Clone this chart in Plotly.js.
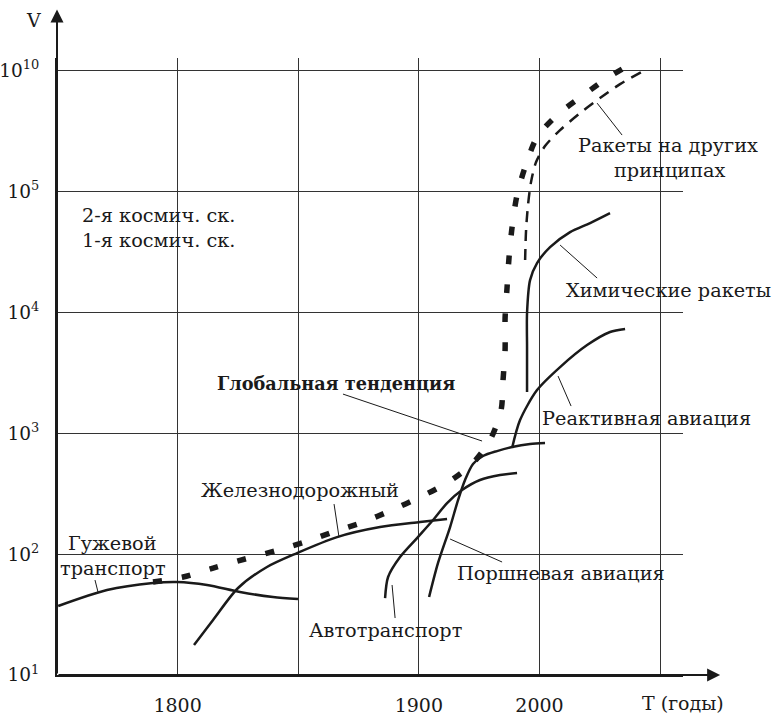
<!DOCTYPE html>
<html><head><meta charset="utf-8">
<script src="https://cdn.plot.ly/plotly-3.0.1.min.js"></script>
<style>html,body{margin:0;padding:0;background:#fff}</style>
</head><body><div id="chart" style="width:776px;height:715px"></div>
<script>
// Axis ticks (schematic grid units)
const xTickVals = [1, 2, 3, 4, 5];
const xTickText = ['1800', '', '1900', '2000', ''];
const yTickVals = [0, 1, 2, 3, 4, 5];
const yTickText = ['10<sup>1</sup>', '10<sup>2</sup>', '10<sup>3</sup>', '10<sup>4</sup>', '10<sup>5</sup>', '10<sup>10</sup>'];

// Curves (x in grid units, y in grid units)
const horseX = [0.01, 0.415, 0.796, 0.995, 1.244, 1.517, 1.791, 1.998];
const horseY = [0.570, 0.702, 0.760, 0.769, 0.744, 0.686, 0.645, 0.628];

const railX = [1.136, 1.294, 1.501, 1.741, 1.990, 2.322, 2.678, 3.010, 3.234];
const railY = [0.248, 0.455, 0.719, 0.893, 1.008, 1.140, 1.223, 1.264, 1.289];

const autoX = [2.720, 2.745, 2.844, 2.985, 3.118, 3.234, 3.358, 3.507, 3.673, 3.814];
const autoY = [0.636, 0.810, 0.975, 1.132, 1.281, 1.421, 1.529, 1.612, 1.653, 1.669];

const pistonX = [3.085, 3.159, 3.259, 3.325, 3.383, 3.449, 3.532, 3.648, 3.773, 3.922, 4.046];
const pistonY = [0.645, 0.926, 1.223, 1.446, 1.612, 1.744, 1.810, 1.851, 1.884, 1.909, 1.917];

const jetX = [3.773, 3.839, 3.980, 4.171, 4.395, 4.585, 4.710];
const jetY = [1.876, 2.107, 2.355, 2.545, 2.727, 2.835, 2.860];

const chemX = [3.897, 3.897, 3.897, 3.922, 3.980, 4.088, 4.254, 4.420, 4.585];
const chemY = [2.339, 2.711, 2.992, 3.264, 3.405, 3.537, 3.661, 3.736, 3.818];

const otherX = [3.881, 3.889, 3.905, 3.930, 3.972, 4.046, 4.171, 4.337, 4.502, 4.668, 4.876];
const otherY = [3.430, 3.678, 3.884, 4.074, 4.240, 4.372, 4.504, 4.645, 4.769, 4.884, 5.000];

const trendX = [0.796, 1.045, 1.294, 1.559, 1.808, 2.056, 2.289, 2.537, 2.778, 3.010, 3.234, 3.441, 3.590, 3.682, 3.698, 3.715, 3.715, 3.731, 3.748, 3.773, 3.814, 3.881, 3.980, 4.146, 4.353, 4.561, 4.784];
const trendY = [0.769, 0.810, 0.884, 0.959, 1.025, 1.099, 1.182, 1.264, 1.364, 1.471, 1.587, 1.744, 1.942, 2.190, 2.438, 2.686, 2.950, 3.198, 3.455, 3.702, 3.967, 4.198, 4.446, 4.628, 4.785, 4.934, 5.066];

// Leader lines [x0, x1], [y0, y1]
const leadHorseX = [0.315, 0.340], leadHorseY = [0.785, 0.686];
const leadRailX = [2.297, 2.338], leadRailY = [1.413, 1.140];
const leadTrendX = [2.371, 3.524], leadTrendY = [2.322, 1.934];
const leadAutoX = [2.778, 2.803], leadAutoY = [0.744, 0.471];
const leadPistonX = [3.259, 3.690], leadPistonY = [1.124, 0.934];
const leadJetX = [4.154, 4.262], leadJetY = [2.471, 2.223];
const leadChemX = [4.171, 4.478], leadChemY = [3.554, 3.281];
const leadOtherX = [4.478, 4.685], leadOtherY = [4.727, 4.463];

// Labels
const labelTexts = ['2-я космич. ск.', '1-я космич. ск.', 'Гужевой', 'транспорт', 'Железнодорожный', '<b>Глобальная тенденция</b>', 'Автотранспорт', 'Поршневая авиация', 'Реактивная авиация', 'Химические ракеты', 'Ракеты на других', 'принципах'];
const labelX = [0.191, 0.191, 0.464, 0.464, 2.015, 2.313, 2.720, 4.179, 4.884, 5.066, 5.066, 5.075];
const labelY = [3.802, 3.595, 1.091, 0.884, 1.529, 2.413, 0.372, 0.843, 2.124, 3.182, 4.380, 4.174];
const labelAnchor = ['left', 'left', 'center', 'center', 'center', 'center', 'center', 'center', 'center', 'center', 'center', 'center'];

const FONT = 'DejaVu Serif, Liberation Serif, serif';
const INK = '#1a1a1a';

function curve(x, y, w, dash) {
  return {x: x, y: y, type: 'scatter', mode: 'lines', hoverinfo: 'skip',
    line: {color: INK, width: w, dash: dash || 'solid', shape: 'spline', smoothing: 0.8}};
}
function leader(x, y) {
  return {x: x, y: y, type: 'scatter', mode: 'lines', hoverinfo: 'skip',
    line: {color: INK, width: 1}};
}

const traces = [
  curve(horseX, horseY, 2.5),
  curve(railX, railY, 2.5),
  curve(autoX, autoY, 2.5),
  curve(pistonX, pistonY, 2.5),
  curve(jetX, jetY, 2.5),
  curve(chemX, chemY, 2.5),
  curve(otherX, otherY, 2.5, '11px,8px'),
  curve(trendX, trendY, 5.5, '9px,20px'),
  leader(leadHorseX, leadHorseY), leader(leadRailX, leadRailY), leader(leadTrendX, leadTrendY),
  leader(leadAutoX, leadAutoY), leader(leadPistonX, leadPistonY), leader(leadJetX, leadJetY),
  leader(leadChemX, leadChemY), leader(leadOtherX, leadOtherY)
];

const annotations = labelTexts.map((t, i) => ({
  text: t, x: labelX[i], y: labelY[i], xref: 'x', yref: 'y',
  xanchor: labelAnchor[i], yanchor: 'middle', showarrow: false,
  font: {family: FONT, size: (i === 5 ? 17.7 : 19.3), color: INK}
}));
// axis arrows
annotations.push({x: 5.498, y: 0, ax: 0, ay: 0, xref: 'x', yref: 'y', axref: 'x', ayref: 'y',
  text: '', showarrow: true, arrowhead: 2, arrowsize: 1.3, arrowwidth: 2, arrowcolor: INK, standoff: 0});
annotations.push({x: 0, y: 5.5, ax: 0, ay: 0, xref: 'x', yref: 'y', axref: 'x', ayref: 'y',
  text: '', showarrow: true, arrowhead: 2, arrowsize: 1.3, arrowwidth: 2, arrowcolor: INK, standoff: 0});
annotations.push({text: 'V', xref: 'paper', yref: 'paper', x: (33 - 57) / 626, y: (675 - 20) / 617,
  xanchor: 'center', yanchor: 'middle', showarrow: false, font: {family: FONT, size: 19, color: INK}});
annotations.push({text: 'T (годы)', xref: 'paper', yref: 'paper', x: (683 - 57) / 626, y: -(703 - 675) / 617,
  xanchor: 'center', yanchor: 'middle', showarrow: false, font: {family: FONT, size: 19, color: INK}});

const layout = {
  width: 776, height: 715,
  margin: {l: 57, r: 93, t: 58, b: 40},
  paper_bgcolor: '#fff', plot_bgcolor: '#fff',
  showlegend: false,
  xaxis: {range: [0, 5.19], tickvals: xTickVals, ticktext: xTickText, showgrid: true,
    gridcolor: '#333', gridwidth: 1, zeroline: false, showline: true, linecolor: INK, linewidth: 2,
    ticks: '', ticklabelstandoff: 12, tickfont: {family: FONT, size: 19, color: INK}, fixedrange: true},
  yaxis: {range: [0, 5.1], tickvals: yTickVals, ticktext: yTickText, showgrid: true,
    gridcolor: '#333', gridwidth: 1, zeroline: false, showline: true, linecolor: INK, linewidth: 2,
    ticks: '', ticklabelstandoff: 12, tickfont: {family: FONT, size: 18.5, color: INK}, fixedrange: true},
  annotations: annotations
};

Plotly.newPlot('chart', traces, layout, {staticPlot: true, displayModeBar: false});
</script>
</body></html>
